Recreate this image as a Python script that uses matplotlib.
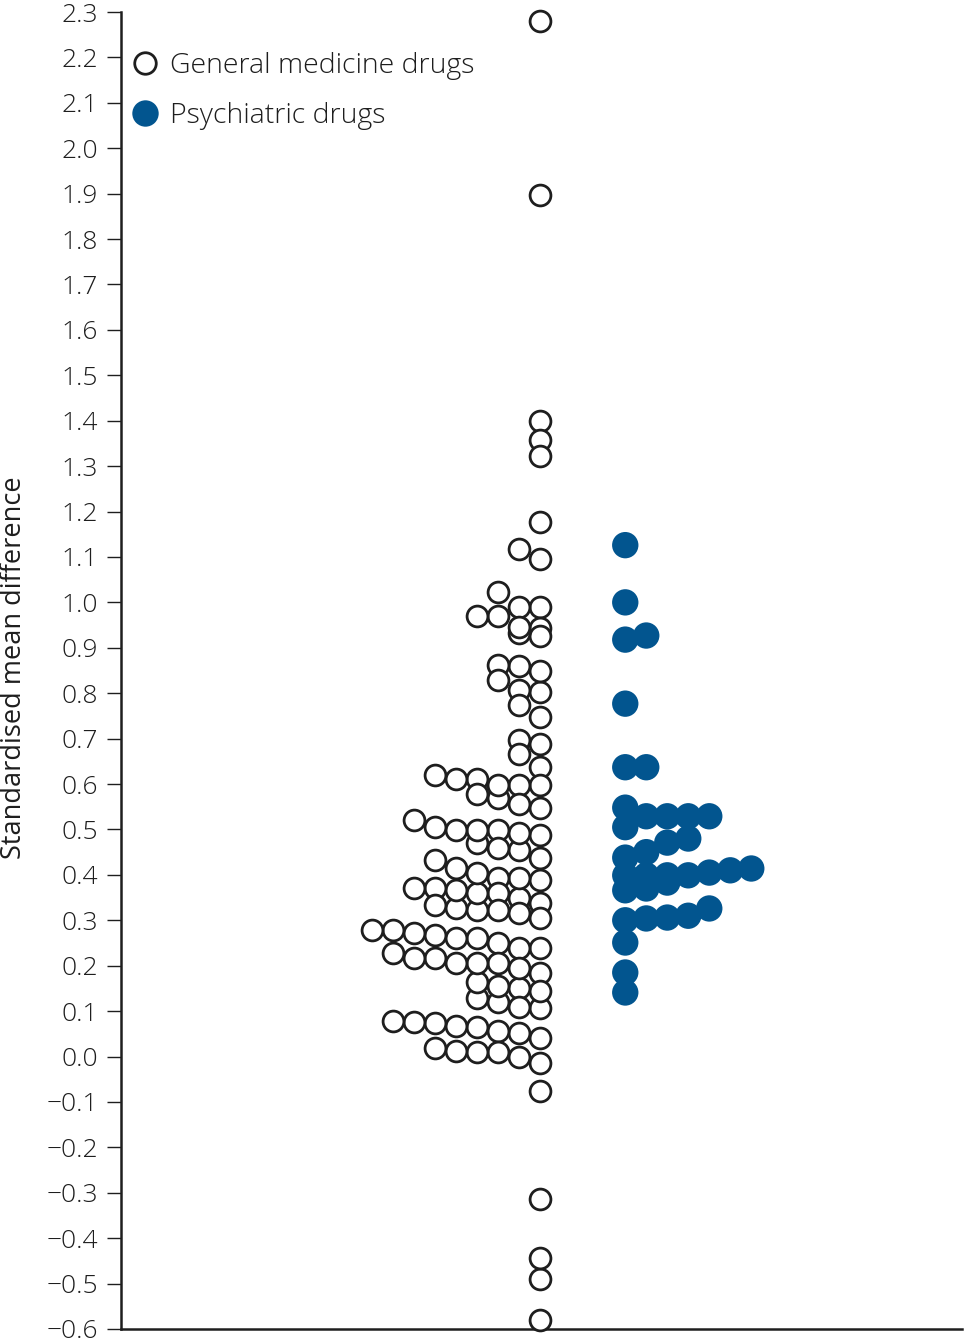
import numpy as np
import matplotlib
matplotlib.use("Agg")
import matplotlib.pyplot as plt
from matplotlib.lines import Line2D

plt.rcParams['font.family'] = ['Open Sans', 'DejaVu Sans']
plt.rcParams['font.weight'] = 'light'

# ---- data (standardised mean differences) ----
general_smd = [2.280, 1.896, 1.399, 1.357, 1.322, 1.178, 1.117, 1.095, 1.022,
               0.989, 0.989, 0.971, 0.971, 0.945, 0.943, 0.932, 0.927, 0.863,
               0.861, 0.850, 0.828, 0.806, 0.802, 0.773, 0.747, 0.696, 0.689,
               0.667, 0.637, 0.619, 0.612, 0.612, 0.597, 0.597, 0.597, 0.577,
               0.570, 0.557, 0.548, 0.520, 0.505, 0.498, 0.498, 0.498, 0.493,
               0.488, 0.471, 0.460, 0.455, 0.438, 0.432, 0.416, 0.405, 0.394,
               0.394, 0.388, 0.370, 0.370, 0.366, 0.361, 0.359, 0.348, 0.337,
               0.333, 0.326, 0.322, 0.322, 0.317, 0.306, 0.278, 0.278, 0.273,
               0.267, 0.260, 0.260, 0.249, 0.240, 0.238, 0.227, 0.218, 0.216,
               0.207, 0.207, 0.205, 0.196, 0.185, 0.163, 0.156, 0.150, 0.145,
               0.128, 0.119, 0.108, 0.106, 0.079, 0.075, 0.073, 0.068, 0.064,
               0.057, 0.052, 0.040, 0.018, 0.013, 0.009, 0.009, -0.002, -0.015,
               -0.075, -0.313, -0.443, -0.489, -0.581]

psychiatric_smd = [1.126, 1.000, 0.927, 0.918, 0.777, 0.637, 0.637, 0.548,
                   0.529, 0.529, 0.529, 0.529, 0.505, 0.480, 0.471, 0.450,
                   0.438, 0.414, 0.410, 0.405, 0.399, 0.399, 0.399, 0.399,
                   0.383, 0.370, 0.366, 0.326, 0.310, 0.306, 0.304, 0.300,
                   0.251, 0.185, 0.141]

labels = ["General medicine drugs", "Psychiatric drugs"]
yticks = [round(-0.6 + 0.1 * i, 1) for i in range(30)]

# ---- layout: binned dot stacking ----
BIN_W = 0.05
BIN_ORIGIN = 0.235
STEP = 0.247          # horizontal step between stacked dots (x units)


def stack_offsets(values):
    vals = np.asarray(values, dtype=float)
    bins = np.floor((vals - BIN_ORIGIN) / BIN_W + 1e-9).astype(int)
    k = np.zeros(len(vals), dtype=int)
    for b in np.unique(bins):
        idx = np.where(bins == b)[0]
        order = idx[np.argsort(vals[idx], kind="stable")]
        for rank, i in enumerate(order):
            k[i] = rank
    return vals, k


fig = plt.figure(figsize=(9.65, 13.4), dpi=100)
ax = fig.add_axes([121 / 965, 11 / 1340, 841 / 965, 1317 / 1340])

blue = "#02558f"
ink = "#1e1e1e"

gy, gk = stack_offsets(general_smd)
order = np.argsort(gk)
ax.scatter(0 - gk[order] * STEP, gy[order], s=225, facecolor="white",
           edgecolor=ink, linewidths=2.0, zorder=3, clip_on=False)

py, pk = stack_offsets(psychiatric_smd)
order = np.argsort(pk)
ax.scatter(1 + pk[order] * STEP, py[order], s=360, facecolor=blue,
           edgecolor="none", zorder=3, clip_on=False)

ax.set_xlim(-4.93, 4.96)
ax.set_ylim(-0.6, 2.3)
ax.set_yticks(yticks)
ax.set_yticklabels([f"{t:.1f}".replace("-", "\u2212") for t in yticks])
ax.set_xticks([])

for side in ["top", "right"]:
    ax.spines[side].set_visible(False)
for side in ["left", "bottom"]:
    ax.spines[side].set_linewidth(1.8)
    ax.spines[side].set_color(ink)

ax.tick_params(axis="y", direction="out", length=10, width=1.0,
               color=ink, pad=6.5, labelsize=19, labelcolor=ink)

ax.set_ylabel("Standardised mean difference", fontsize=19.5, color=ink)
ax.yaxis.set_label_coords(-0.111, 0.502)

handles = [
    Line2D([], [], linestyle="none", marker="o", markersize=15.5,
           markerfacecolor="white", markeredgecolor=ink,
           markeredgewidth=2.0),
    Line2D([], [], linestyle="none", marker="o", markersize=19,
           markerfacecolor=blue, markeredgecolor="none"),
]
leg = ax.legend(handles, labels, loc="upper left",
                bbox_to_anchor=((131.0 - 121) / 841, 0.970), frameon=False,
                fontsize=20.5, handlelength=1.0, handletextpad=0.38,
                labelspacing=0.78, borderaxespad=0.0, borderpad=0.0)
for t in leg.get_texts():
    t.set_color(ink)

fig.savefig("out.png", dpi=100)
